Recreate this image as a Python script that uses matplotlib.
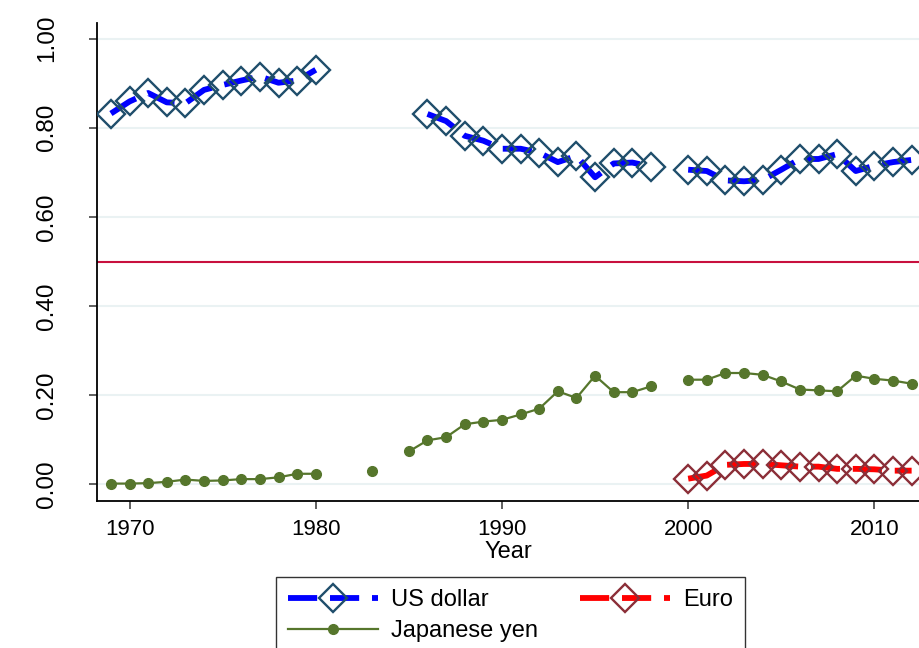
import numpy as np
import matplotlib
matplotlib.use("Agg")
import matplotlib.pyplot as plt

plt.rcParams['font.family'] = ['Liberation Sans', 'DejaVu Sans']

nan = np.nan
years = list(range(1969, 2013))

usd = [0.832, 0.859, 0.878, 0.857, 0.855, 0.885, 0.896, 0.906, 0.915, 0.901, 0.906, 0.930,
       nan, nan, nan, nan, nan,
       0.831, 0.815, 0.782, 0.771, 0.753, 0.753, 0.744, 0.723, 0.737, 0.689, 0.720, 0.722, 0.713,
       nan,
       0.706, 0.703, 0.682, 0.680, 0.683, 0.706, 0.730, 0.730, 0.741, 0.703, 0.715, 0.723, 0.728]

jpy = [0.002, 0.002, 0.003, 0.006, 0.011, 0.008, 0.009, 0.012, 0.012, 0.016, 0.024, 0.024,
       nan, nan, 0.031, nan,
       0.074, 0.099, 0.106, 0.135, 0.141, 0.145, 0.157, 0.170, 0.209, 0.194, 0.244, 0.207, 0.207, 0.220,
       nan,
       0.235, 0.235, 0.250, 0.250, 0.246, 0.231, 0.213, 0.211, 0.209, 0.244, 0.237, 0.233, 0.226]

eur = [nan] * 31 + [0.013, 0.020, 0.044, 0.046, 0.046, 0.043, 0.040, 0.040, 0.035, 0.035, 0.034, 0.031, 0.031]

reference_level = 0.5
xticks = [1970, 1980, 1990, 2000, 2010]
yticks = [0.0, 0.2, 0.4, 0.6, 0.8, 1.0]

fig = plt.figure(figsize=(9.2, 6.48), dpi=100)
ax = fig.add_axes([0.1054, 0.2269, 0.8946, 0.7376])

for y in yticks:
    ax.axhline(y, color='#eaf2f3', lw=1.5, zorder=0)
ax.axhline(reference_level, color='#c8103e', lw=1.5, zorder=1)

ax.plot(years, jpy, color='#56762c', lw=1.6, marker='o', ms=7,
        markeredgecolor='#56762c', label='Japanese yen', zorder=3)

ax.plot(years, usd, color='#0000ff', lw=4.2, ls=(0, (5, 2.2)),
        marker='D', ms=14.5, mfc='none', mec='#1f4e6b', mew=1.7,
        dash_capstyle='butt', label='US dollar', zorder=4)
ax.plot(years, eur, color='#ff0000', lw=4.2, ls=(0, (5, 2.2)),
        marker='D', ms=14.5, mfc='none', mec='#8b2e38', mew=1.7,
        dash_capstyle='butt', label='Euro', zorder=4)

ax.set_xlim(1968.25, 2012.45)
ax.set_ylim(-0.037, 1.035)
ax.set_xticks(xticks)
ax.set_yticks(yticks)
ax.set_yticklabels([f"{v:.2f}" for v in yticks], rotation=90, va='center')
ax.tick_params(axis='both', length=6, width=1.2, color='#444444')
ax.tick_params(axis='x', labelsize=16, pad=7)
ax.tick_params(axis='y', labelsize=17.5, pad=22)
ax.set_xlabel('Year', fontsize=17, labelpad=1)

for s in ['top', 'right']:
    ax.spines[s].set_visible(False)
for s in ['left', 'bottom']:
    ax.spines[s].set_linewidth(1.3)
    ax.spines[s].set_color('black')

handles, labels = ax.get_legend_handles_labels()
order = [labels.index('US dollar'), labels.index('Japanese yen'), labels.index('Euro')]
leg = fig.legend([handles[i] for i in order], [labels[i] for i in order],
                 loc='upper center', bbox_to_anchor=(0.555, 0.1096), ncol=2,
                 fontsize=17, handlelength=3.8, handletextpad=0.55, columnspacing=1.8,
                 fancybox=False, edgecolor='#333333', framealpha=1, borderpad=0.5,
                 labelspacing=0.4, borderaxespad=0)
leg.get_frame().set_linewidth(1.0)

fig.savefig('out.png', dpi=100)
